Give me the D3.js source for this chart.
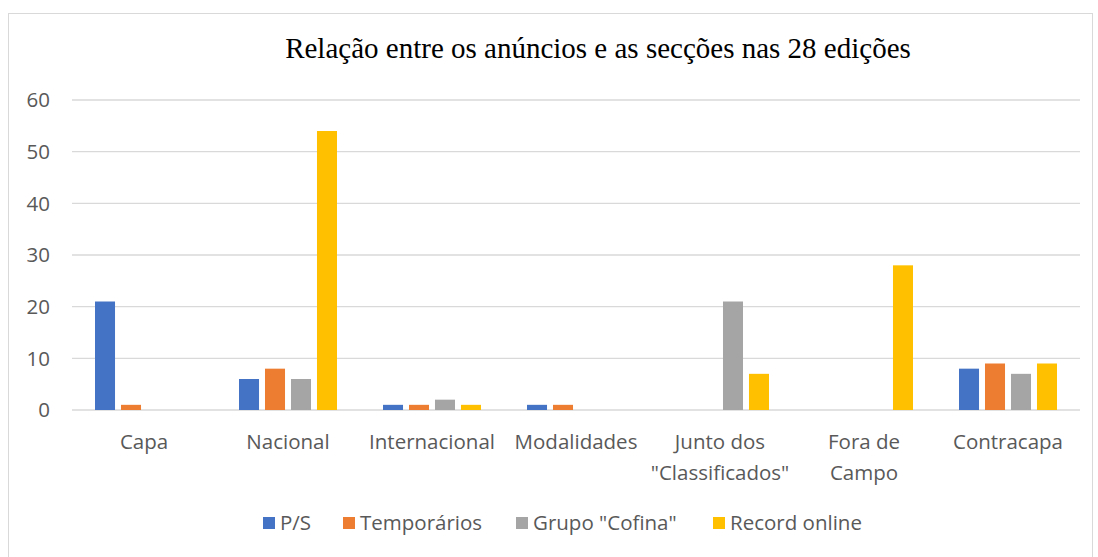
<!DOCTYPE html>
<html><head><meta charset="utf-8">
<script src="https://cdn.jsdelivr.net/npm/d3@7"></script>
<style>body{margin:0;background:#fff}</style>
</head><body>
<svg id="c" width="1098" height="557"></svg>
<script>
const categories = ["Capa","Nacional","Internacional","Modalidades","Junto dos\n\"Classificados\"","Fora de\nCampo","Contracapa"];
const seriesNames = ["P/S","Temporários","Grupo \"Cofina\"","Record online"];
const ps = [21,6,1,1,0,0,8];
const temporarios = [1,8,1,1,0,0,9];
const cofina = [0,6,2,0,21,0,7];
const record = [0,54,1,0,7,28,9];
const colors = ["#4472C4","#ED7D31","#A5A5A5","#FFC000"];
const yTicks = [0,10,20,30,40,50,60];
const title = "Relação entre os anúncios e as secções nas 28 edições";

const values = [ps, temporarios, cofina, record];
const svg = d3.select("#c");
svg.append("rect").attr("x",8.5).attr("y",13.5).attr("width",1084).attr("height",560)
  .attr("fill","#fff").attr("stroke","#d9d9d9");

const pLeft = 72, pRight = 1080, pTop = 100, pBottom = 410;
const x0 = d3.scaleBand().domain(categories).range([pLeft,pRight]).padding(0);
const x1 = d3.scaleBand().domain(seriesNames).range([0,x0.bandwidth()]).paddingInner(0.23).paddingOuter(0.885);
const y = d3.scaleLinear().domain([0,60]).range([pBottom,pTop]);

const grid = svg.append("g");
grid.selectAll("line").data(yTicks).join("line")
  .attr("x1",pLeft).attr("x2",pRight).attr("y1",d=>y(d)).attr("y2",d=>y(d))
  .attr("stroke","#d9d9d9").attr("stroke-width",1.3);

const fam = "Open Sans";
const fs = 20.5;
svg.append("g").selectAll("text").data(yTicks).join("text")
  .attr("x",50).attr("y",d=>y(d)).attr("dy","0.36em").attr("text-anchor","end")
  .attr("font-family",fam).attr("font-size",fs).attr("fill","#595959").text(d=>d);

const groups = svg.append("g").selectAll("g").data(categories).join("g")
  .attr("transform",d=>`translate(${x0(d)},0)`);
groups.selectAll("rect").data((d,i)=>seriesNames.map((s,j)=>({s,v:values[j][i],c:colors[j]}))).join("rect")
  .attr("x",d=>x1(d.s)).attr("width",x1.bandwidth())
  .attr("y",d=>y(d.v)).attr("height",d=>y(0)-y(d.v)).attr("fill",d=>d.c);

const lab = svg.append("g").selectAll("text").data(categories).join("text")
  .attr("x",d=>x0(d)+x0.bandwidth()/2).attr("y",449).attr("text-anchor","middle")
  .attr("font-family",fam).attr("font-size",fs).attr("fill","#595959");
lab.each(function(d){
  const t = d3.select(this);
  d.split("\n").forEach((line,k)=>t.append("tspan").attr("x",x0(d)+x0.bandwidth()/2).attr("dy",k?31:0).text(line));
});

svg.append("text").attr("x",598).attr("y",58).attr("text-anchor","middle")
  .attr("font-family","Liberation Serif").attr("font-size",29).attr("fill","#000").text(title);

const legX = [263,343,516,713];
const leg = svg.append("g").selectAll("g").data(seriesNames).join("g")
  .attr("transform",(d,i)=>`translate(${legX[i]},517)`);
leg.append("rect").attr("width",12).attr("height",12).attr("fill",(d,i)=>colors[i]);
leg.append("text").attr("x",17).attr("y",6).attr("dy","0.36em")
  .attr("font-family",fam).attr("font-size",fs).attr("fill","#595959").text(d=>d);
</script>
</body></html>
